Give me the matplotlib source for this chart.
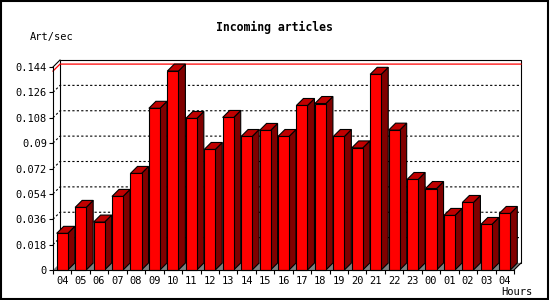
import matplotlib
matplotlib.use("Agg")
import matplotlib.pyplot as plt
from matplotlib.patches import Polygon, Rectangle
from matplotlib.lines import Line2D
import numpy as np

# ---- data ----
hours = ["04", "05", "06", "07", "08", "09", "10", "11", "12", "13", "14", "15", "16",
         "17", "18", "19", "20", "21", "22", "23", "00", "01", "02", "03", "04"]
values = [0.026, 0.0444, 0.034, 0.0522, 0.0685, 0.1147, 0.1411, 0.1075, 0.0855, 0.1082,
          0.0947, 0.0990, 0.0947, 0.1167, 0.1181, 0.0947, 0.0866, 0.1388, 0.0992, 0.0642,
          0.0578, 0.0387, 0.0479, 0.0323, 0.0401]
ytick_vals = [0, 0.018, 0.036, 0.054, 0.072, 0.09, 0.108, 0.126, 0.144]
ytick_labels = ["0", "0.018", "0.036", "0.054", "0.072", "0.09", "0.108", "0.126", "0.144"]
title = "Incoming articles"
ylabel = "Art/sec"
xlabel = "Hours"

# ---- style ----
W, H, DPI = 550, 300, 100
FONT = "DejaVu Sans Mono"
FRONT = "#ff0000"
TOP = "#c00000"
SIDE = "#800000"
FLOOR = "#808080"
DEPTH_PX = 7

fig = plt.figure(figsize=(W / DPI, H / DPI), dpi=DPI)
fig.patch.set_facecolor("white")

# front plot rectangle in pixels
L, R, B, T = 53, 514, 270, 67
ax = fig.add_axes([L / W, 1 - B / H, (R - L) / W, (B - T) / H])
ax.set_facecolor("none")
n = len(values)
ymax = ytick_vals[-1]
ax.set_xlim(-0.5, n - 0.5)
ax.set_ylim(0, ymax)

# depth offset in data units
dx = DEPTH_PX / ((R - L) / n)
dy = DEPTH_PX / ((B - T) / ymax)

for s in ["top", "right"]:
    ax.spines[s].set_visible(False)
for s in ["left", "bottom"]:
    ax.spines[s].set_linewidth(0.8)
    ax.spines[s].set_zorder(20)

ax.set_yticks(ytick_vals)
ax.set_yticklabels(ytick_labels)
ax.tick_params(axis="y", direction="out", length=2.9, width=0.8, pad=1.4,
               labelsize=7.5)
x = np.arange(n)
ax.set_xticks(x)
ax.set_xticklabels(hours)
ax.set_xticks(np.arange(n + 1) - 0.5, minor=True)
ax.tick_params(axis="x", which="major", length=0, pad=4.5, labelsize=7.5)
ax.tick_params(axis="x", which="minor", direction="out", length=2.9, width=0.8)
for lab in ax.get_xticklabels() + ax.get_yticklabels():
    lab.set_family(FONT)

x0, x1 = -0.5, n - 0.5
kw = dict(clip_on=False)

# back plane
ax.add_patch(Rectangle((x0 + dx, dy), x1 - x0, ymax, facecolor="white",
                       edgecolor="black", lw=0.8, zorder=1, **kw))
# gridlines (dotted) on back wall + left wall diagonals
for t in ytick_vals[1:-1]:
    ax.add_line(Line2D([x0, x0 + dx, x1 + dx], [t, t + dy, t + dy], color="black",
                       lw=0.8, linestyle=(0, (2, 2)), zorder=2, **kw))
# top-left diagonal edge
ax.add_line(Line2D([x0, x0 + dx], [ymax, ymax + dy], color="black", lw=0.8,
                   zorder=3, **kw))
# max line
m = max(values)
ax.add_line(Line2D([x0, x0 + dx, x1 + dx], [m, m + dy, m + dy], color="red",
                   lw=0.9, zorder=3, **kw))
# floor
ax.add_patch(Polygon([(x0, 0), (x1, 0), (x1 + dx, dy), (x0 + dx, dy)], closed=True,
                     facecolor=FLOOR, edgecolor="none", zorder=4, **kw))
ax.add_line(Line2D([x1, x1 + dx], [0, dy], color="black", lw=0.8, zorder=4, **kw))

# bars
bw = 0.6
for i, v in enumerate(values):
    a = i - bw / 2
    b = i + bw / 2
    z = 5 + i * 0.01
    ax.add_patch(Polygon([(b, 0), (b, v), (b + dx, v + dy), (b + dx, dy)], closed=True,
                         facecolor=SIDE, edgecolor="black", lw=0.8, zorder=z, **kw))
    ax.add_patch(Polygon([(a, v), (b, v), (b + dx, v + dy), (a + dx, v + dy)], closed=True,
                         facecolor=TOP, edgecolor="black", lw=0.8, zorder=z, **kw))
    ax.add_patch(Rectangle((a, 0), bw, v, facecolor=FRONT, edgecolor="black",
                           lw=0.8, zorder=z, **kw))

# texts
fig.text(274 / W, 1 - 27 / H, title, ha="center", va="center", family=FONT,
         fontweight="bold", fontsize=8.3)
fig.text(30 / W, 1 - 37 / H, ylabel, ha="left", va="center", family=FONT, fontsize=7.5)
fig.text(533 / W, 1 - 292 / H, xlabel, ha="right", va="center", family=FONT, fontsize=7.5)

# outer border
fig.add_artist(Rectangle((0.5 / W, 1 - 298.5 / H), 547.5 / W, 298 / H,
                         transform=fig.transFigure, fill=False, edgecolor="black",
                         lw=1.5))

fig.savefig("out.png", dpi=DPI)
